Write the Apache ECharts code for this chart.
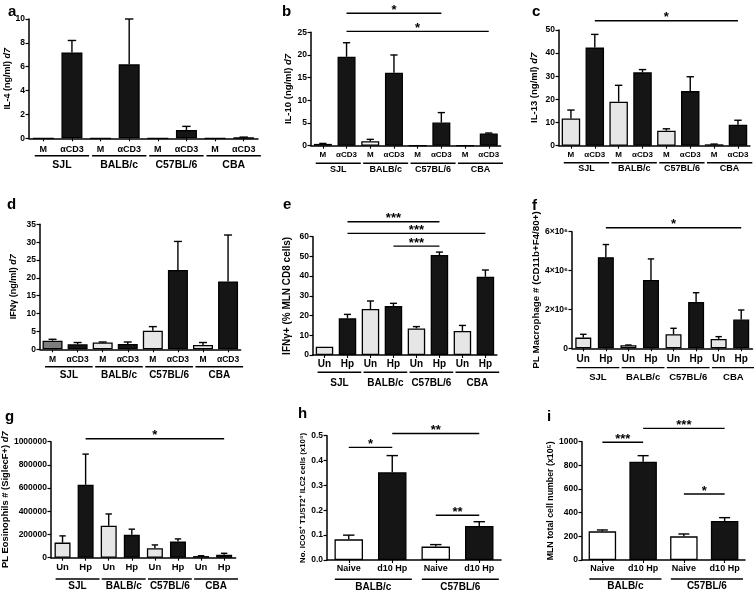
<!DOCTYPE html>
<html><head><meta charset="utf-8">
<script src="https://cdn.jsdelivr.net/npm/echarts@6/dist/echarts.min.js"></script>
<style>html,body{margin:0;padding:0;background:#fff}#c{width:754px;height:593px}</style>
</head><body><div id="c"></div>
<script>
// ---------- data ----------
const catsMA = ['M','αCD3','M','αCD3','M','αCD3','M','αCD3'];
const catsUH = ['Un','Hp','Un','Hp','Un','Hp','Un','Hp'];
const catsND = ['Naive','d10 Hp','Naive','d10 Hp'];
const strains4 = ['SJL','BALB/c','C57BL/6','CBA'];
const strains2 = ['BALB/c','C57BL/6'];

// a: IL-4
const aTicks = [0,2,4,6,8,10];
const aMean  = [0, 7.2, 0, 6.2, 0, 0.7, 0, 0.05];
const aUpper = [0, 8.2, 0, 10.0, 0, 1.0, 0, 0.1];
const aSig   = [];
// b: IL-10
const bTicks = [0,5,10,15,20,25];
const bMean  = [0.4, 19.6, 1.0, 16.1, 0, 5.1, 0, 2.7];
const bUpper = [0.5, 22.7, 1.4, 20.0, 0, 7.3, 0, 2.8];
const bSig   = [[1,5,29.2,'*'],[1,7,25.2,'*']];
// c: IL-13
const cTicks = [0,10,20,30,40,50];
const cMean  = [11.8, 42.4, 19.0, 31.7, 6.5, 23.6, 0.6, 9.1];
const cUpper = [15.4, 48.1, 26.1, 32.9, 7.3, 29.8, 0.7, 11.0];
const cSig   = [[1,7,54,'*']];
// d: IFNg
const dTicks = [0,5,10,15,20,25,30,35];
const dMean  = [2.4, 1.4, 1.9, 1.5, 5.2, 22.2, 1.2, 19.0];
const dUpper = [2.8, 1.9, 2.05, 2.05, 6.35, 30.2, 1.9, 32.0];
const dSig   = [];
// e: IFNg+ % MLN CD8
const eTicks = [0,10,20,30,40,50,60];
const eMean  = [4.2, 18.6, 23.3, 24.8, 13.5, 50.7, 12.2, 39.7];
const eUpper = [4.2, 20.6, 27.4, 26.2, 14.4, 52.2, 15.0, 43.1];
const eSig   = [[1,5,67.6,'***'],[1,7,61.7,'***'],[3,5,55.2,'***']];
// f: PL macrophage
const fTicks = [0,2e6,4e6,6e6];
const fMean  = [0.55e6, 4.69e6, 0.155e6, 3.52e6, 0.72e6, 2.38e6, 0.48e6, 1.48e6];
const fUpper = [0.72e6, 5.34e6, 0.17e6, 4.6e6, 1.03e6, 2.86e6, 0.6e6, 1.97e6];
const fSig   = [[1,7,6.2e6,'*']];
// g: PL eosinophils
const gTicks = [0,200000,400000,600000,800000,1000000];
const gMean  = [130000, 629000, 275000, 197000, 81000, 139000, 14000, 26000];
const gUpper = [188000, 893000, 377000, 246000, 110000, 162000, 17000, 38000];
const gSig   = [[1,7,1025000,'*']];
// h: ILC2
const hTicks = [0,0.1,0.2,0.3,0.4,0.5];
const hMean  = [0.083, 0.353, 0.054, 0.137];
const hUpper = [0.100, 0.420, 0.062, 0.154];
const hSig   = [[0,1,0.453,'*'],[1,3,0.509,'**'],[2,3,0.18,'**']];
// i: MLN total
const iTicks = [0,200,400,600,800,1000];
const iMean  = [242, 830, 200, 330];
const iUpper = [254, 882, 220, 358];
const iSig   = [[0,1,995,'***'],[1,3,1113,'***'],[2,3,558,'*']];

// ---------- styles / layout ----------
const FONT = '"Liberation Sans", Arial, Helvetica, sans-serif';
const LT = '#e6e6e6', DK = '#151515', WH = '#ffffff';
const alt = [LT,DK,LT,DK,LT,DK,LT,DK];

const panels = [
 {L:'a',lx:8,ly:4,  cats:catsMA,groups:strains4,mean:aMean,upper:aUpper,sig:aSig,ticks:aTicks,
  name:'IL-4 (ng/ml) {i|d7}', nf:9, ng:13, grid:[29,19,229,119.3], bw:21, cf:9, cm:6.5, gf:10.5, ul:17.5, go:26.7, ulL:0.3, ulR:0.6, colors:alt},
 {L:'b',lx:282,ly:4, cats:catsMA,groups:strains4,mean:bMean,upper:bUpper,sig:bSig,ticks:bTicks,
  name:'IL-10 (ng/ml) {i|d7}', nf:9.5, ng:18, grid:[311,32.3,189.6,113.4], bw:18, cf:8, cm:5.5, gf:9, ul:17.5, go:23.5, ulL:0.3, ulR:0.6,
  colors:['#8c8c8c',DK,'#f5f5f5',DK,LT,DK,LT,DK]},
 {L:'c',lx:532,ly:4, cats:catsMA,groups:strains4,mean:cMean,upper:cUpper,sig:cSig,ticks:cTicks,
  name:'IL-13 (ng/ml) {i|d7}', nf:9.5, ng:20, grid:[559,30,190.9,115.7], bw:18.5, cf:8, cm:5.5, gf:9, ul:17, go:23, ulL:0.3, ulR:0.6, colors:alt},
 {L:'d',lx:7,ly:197, cats:catsMA,groups:strains4,mean:dMean,upper:dUpper,sig:dSig,ticks:dTicks,
  name:'IFNγ (ng/ml) {i|d7}', nf:9, ng:22, grid:[40,224.3,200.6,125], bw:20, cf:8.5, cm:5.7, gf:10, ul:17.5, go:26, ulL:0.3, ulR:0.6,
  colors:['#7d7d7d',DK,LT,DK,LT,DK,LT,DK]},
 {L:'e',lx:283,ly:197, cats:catsUH,groups:strains4,mean:eMean,upper:eUpper,sig:eSig,ticks:eTicks,
  name:'IFNγ+ (% MLN CD8 cells)', nf:10, ng:21, grid:[313,236.7,183.9,118.3], bw:17.5, cf:10, cm:4, gf:10, ul:17.3, go:28.3, ulL:0.3, ulR:0.6, colors:alt},
 {L:'f',lx:532,ly:198, cats:catsUH,groups:strains4,mean:fMean,upper:fUpper,sig:fSig,ticks:fTicks,
  name:'PL Macrophage # (CD11b+F4/80+)', nf:9.8, ng:25, grid:[572,231.7,180.5,116.6], bw:16, cf:10, cm:5.5, gf:9.5, ul:19.3, go:28.7, ulL:0.3, ulR:0.6, colors:alt,
  tf:8.5, fmt:v => v===0 ? '0' : (v/1e6)+'×10⁶'},
 {L:'g',lx:5,ly:409, cats:catsUH,groups:strains4,mean:gMean,upper:gUpper,sig:gSig,ticks:gTicks,
  name:'PL Eosinophils # (SiglecF+) {i|d7}', nf:9.4, ng:39, grid:[50,441.7,185.7,116], bw:16, cf:9.5, cm:4.8, gf:10, ul:21.3, go:29, ulL:0.3, ulR:0.6, colors:alt},
 {L:'h',lx:298,ly:406, cats:catsND,groups:strains2,mean:hMean,upper:hUpper,sig:hSig,ticks:hTicks,
  name:'No. ICOS⁺ T1/ST2⁺ ILC2 cells (x10⁵)', nf:7.8, ng:19, grid:[327,435.7,174,124.3], bw:28.5, cf:9, cm:4.5, gf:10, ul:19.3, go:27, ulL:0.32, ulR:0.45,
  colors:[WH,DK,WH,DK], fmt:v => v.toFixed(1)},
 {L:'i',lx:547,ly:409, cats:catsND,groups:strains2,mean:iMean,upper:iUpper,sig:iSig,ticks:iTicks,
  name:'MLN total cell number (x10⁵)', nf:8.8, ng:27, grid:[582,441.7,163,118.3], bw:27.5, cf:9, cm:4.5, gf:10, ul:19, go:26.7, ulL:0.32, ulR:0.45,
  colors:[WH,DK,WH,DK]}
];

// ---------- build option ----------
const grids=[], xAxes=[], yAxes=[], series=[], titles=[];
panels.forEach((p,k)=>{
  const [l,t,w,h] = p.grid;
  grids.push({left:l, top:t, width:w, height:h});
  titles.push({text:p.L, left:p.lx, top:p.ly, padding:0,
    textStyle:{fontFamily:FONT, fontWeight:'bold', fontSize:15, color:'#000'}});
  xAxes.push({gridIndex:k, type:'category', data:p.cats, boundaryGap:true,
    axisLine:{show:true, lineStyle:{color:'#000', width:1.5}},
    axisTick:{show:true, alignWithLabel:true, length:3, lineStyle:{color:'#000', width:1.1}},
    axisLabel:{interval:0, color:'#000', fontFamily:FONT, fontWeight:'bold', fontSize:p.cf, margin:p.cm},
    splitLine:{show:false}});
  const tk = p.ticks;
  yAxes.push({gridIndex:k, type:'value', min:tk[0], max:tk[tk.length-1], interval:tk[1]-tk[0],
    name:p.name, nameLocation:'middle', nameRotate:90, nameGap:p.ng,
    nameTextStyle:{fontFamily:FONT, fontWeight:'bold', fontSize:p.nf, color:'#000',
      rich:{i:{fontFamily:FONT, fontWeight:'bold', fontStyle:'italic', fontSize:p.nf, color:'#000'}}},
    axisLine:{show:true, lineStyle:{color:'#000', width:1.5}},
    axisTick:{show:true, length:3.5, lineStyle:{color:'#000', width:1.2}},
    axisLabel:{color:'#000', fontFamily:FONT, fontWeight:'bold', fontSize:p.tf || 8.5, margin:4, formatter:p.fmt || (v=>String(v))},
    splitLine:{show:false}});
  // bars
  series.push({type:'bar', xAxisIndex:k, yAxisIndex:k, data:p.mean, barWidth:p.bw, silent:true, animation:false,
    itemStyle:{color:(q)=>p.colors[q.dataIndex], borderColor:'#000', borderWidth:1.3}});
  // error bars (upper only)
  const cap = p.bw*0.4;
  series.push({type:'custom', xAxisIndex:k, yAxisIndex:k, silent:true, animation:false, clip:false, z:5,
    data:p.mean.map((m,i)=>[i,m,p.upper[i]]), encode:{x:0, y:[1,2]},
    renderItem:(params,api)=>{
      const i=api.value(0), m=api.value(1), u=api.value(2);
      if (!(u>m)) return {type:'group', children:[]};
      const p0=api.coord([i,m]), p1=api.coord([i,u]);
      return {type:'group', children:[
        {type:'line', shape:{x1:p0[0],y1:p0[1],x2:p1[0],y2:p1[1]}, style:{stroke:'#000',lineWidth:1.4}},
        {type:'line', shape:{x1:p1[0]-cap/2,y1:p1[1],x2:p1[0]+cap/2,y2:p1[1]}, style:{stroke:'#000',lineWidth:1.4}}
      ]};
    }});
  // group underlines + labels
  series.push({type:'custom', xAxisIndex:k, yAxisIndex:k, silent:true, animation:false, clip:false,
    data:p.groups.map((g,j)=>[2*j, 2*j+1, 0]), encode:{x:[0,1], y:2},
    renderItem:(params,api)=>{
      const a=api.coord([api.value(0),0]), b=api.coord([api.value(1),0]);
      const bw=api.size([1,0])[0];
      const x1=a[0]-p.ulL*bw, x2=b[0]+p.ulR*bw;
      return {type:'group', children:[
        {type:'line', shape:{x1:x1,y1:a[1]+p.ul,x2:x2,y2:a[1]+p.ul}, style:{stroke:'#000',lineWidth:1.4}},
        {type:'text', style:{text:p.groups[params.dataIndex], x:(x1+x2)/2, y:a[1]+p.go, align:'center', verticalAlign:'middle',
          font:'bold '+p.gf+'px '+FONT, fill:'#000'}}
      ]};
    }});
  // significance brackets
  if (p.sig.length) series.push({type:'custom', xAxisIndex:k, yAxisIndex:k, silent:true, animation:false, clip:false,
    data:p.sig.map(s=>[s[0],s[1],s[2]]), encode:{x:[0,1], y:2},
    renderItem:(params,api)=>{
      const a=api.coord([api.value(0),api.value(2)]), b=api.coord([api.value(1),api.value(2)]);
      return {type:'group', children:[
        {type:'line', shape:{x1:a[0],y1:a[1],x2:b[0],y2:b[1]}, style:{stroke:'#000',lineWidth:1.4}},
        {type:'text', style:{text:p.sig[params.dataIndex][3], x:(a[0]+b[0])/2, y:a[1]-3, align:'center', verticalAlign:'middle',
          font:'bold 13px '+FONT, fill:'#000'}}
      ]};
    }});
});

const chart = echarts.init(document.getElementById('c'), null, {renderer:'canvas'});
chart.setOption({animation:false, backgroundColor:'#fff', title:titles, grid:grids, xAxis:xAxes, yAxis:yAxes, series:series});
</script></body></html>
